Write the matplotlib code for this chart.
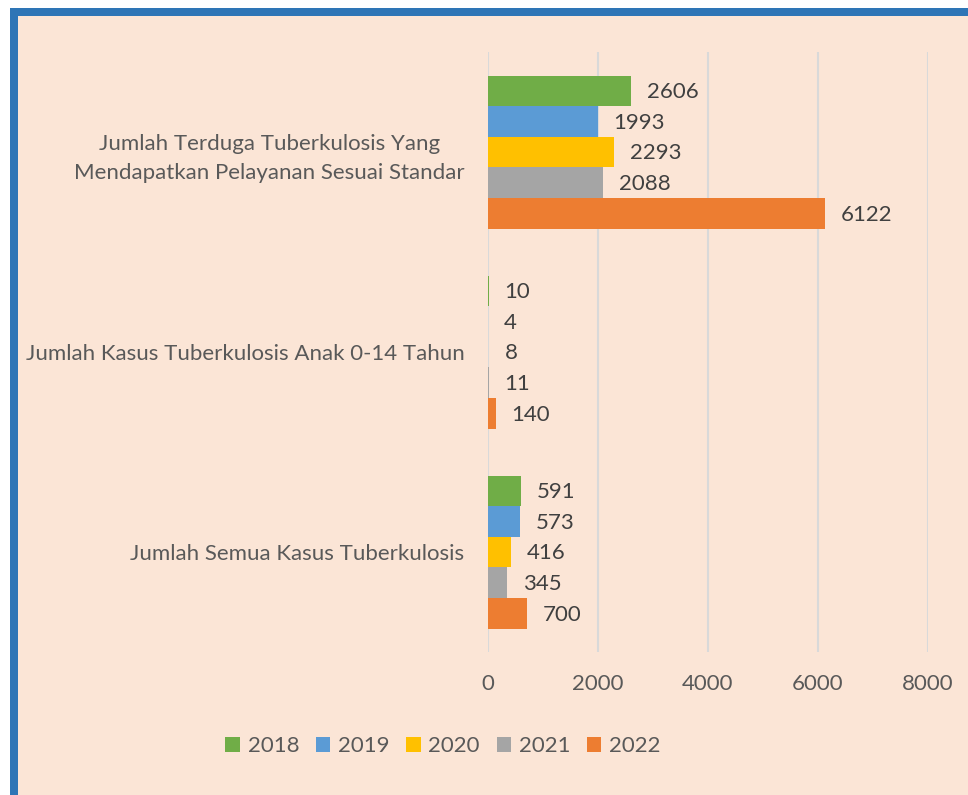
import numpy as np
import matplotlib.pyplot as plt
from matplotlib.patches import Rectangle

categories = ['Jumlah Semua Kasus Tuberkulosis',
              'Jumlah Kasus Tuberkulosis Anak 0-14 Tahun',
              'Jumlah Terduga Tuberkulosis Yang\nMendapatkan Pelayanan Sesuai Standar']
years = ['2018', '2019', '2020', '2021', '2022']
v2018 = [591, 10, 2606]
v2019 = [573, 4, 1993]
v2020 = [416, 8, 2293]
v2021 = [345, 11, 2088]
v2022 = [700, 140, 6122]
colors = ['#70AD47', '#5B9BD5', '#FFC000', '#A5A5A5', '#ED7D31']

plt.rcParams['font.family'] = ['Lato', 'DejaVu Sans']
fs = 16

bg = '#FBE5D6'
fig = plt.figure(figsize=(9.68, 7.95), dpi=100)
fig.patch.set_facecolor('white')
# background panel and blue frame
fig.patches.append(Rectangle((10 / 968, 0), 1, 1 - 8 / 795, transform=fig.transFigure,
                             facecolor=bg, edgecolor='none', zorder=-3))
fig.patches.append(Rectangle((10 / 968, 0), 8 / 968, 1 - 8 / 795, transform=fig.transFigure,
                             facecolor='#2E75B6', edgecolor='none', zorder=-2))
fig.patches.append(Rectangle((10 / 968, 1 - 16 / 795), 1, 8 / 795, transform=fig.transFigure,
                             facecolor='#2E75B6', edgecolor='none', zorder=-2))

ax = fig.add_axes([488 / 968, 1 - 652 / 795, 440 / 968, 600 / 795])
ax.set_facecolor('none')

y = np.arange(len(categories))
h = 0.153
series = [v2018, v2019, v2020, v2021, v2022]
for i, (vals, col, yr) in enumerate(zip(series, colors, years)):
    pos = y + (2 - i) * h
    ax.barh(pos, vals, height=h, color=col, label=yr, zorder=2)
    for p, v in zip(pos, vals):
        ax.annotate(str(v), (v, p), xytext=(11.5, -1), textcoords='offset points',
                    va='center', ha='left', fontsize=fs, color='#404040')

ax.set_xlim(0, 8000)
ax.set_ylim(-0.5, 2.5)
ax.set_xticks([0, 2000, 4000, 6000, 8000])
ax.set_yticks(y)
ax.set_yticklabels(categories, multialignment='center', linespacing=1.55)
ax.tick_params(axis='x', length=0, labelsize=fs, labelcolor='#595959', pad=16)
ax.tick_params(axis='y', length=0, labelsize=fs, labelcolor='#595959', pad=17)
ax.grid(axis='x', color='#D9D9D9', linewidth=1.5, zorder=0)
for s in ax.spines.values():
    s.set_visible(False)

fig.legend(loc='center', bbox_to_anchor=(443 / 968, 1 - 746 / 795), ncol=5,
           frameon=False, fontsize=fs, labelcolor='#595959',
           handlelength=0.65, handleheight=0.65, handletextpad=0.35, columnspacing=0.75)

fig.savefig('out.png', dpi=100, facecolor=fig.get_facecolor())
